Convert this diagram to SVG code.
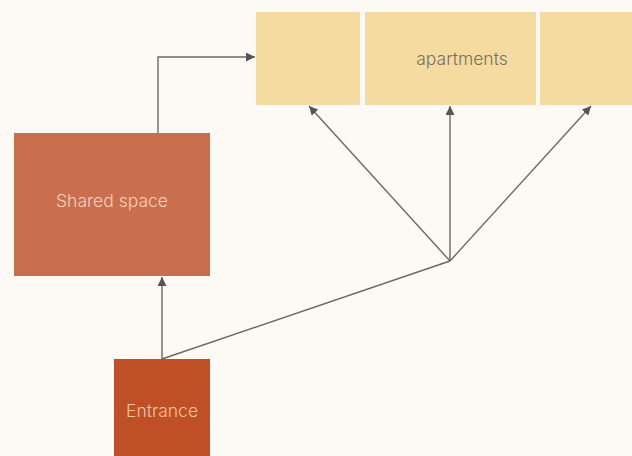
<svg xmlns="http://www.w3.org/2000/svg" width="632" height="456" viewBox="0 0 632 456">
<defs>
<style>
.lbl{font-family:Inter,"Noto Sans",sans-serif;font-size:17.5px;font-weight:300;text-anchor:middle;dominant-baseline:central}
.con{fill:none;stroke:#6b6865;stroke-width:1.4}
</style>
<marker id="ah" viewBox="0 0 10 10" refX="10" refY="5" markerWidth="9" markerHeight="9" markerUnits="userSpaceOnUse" orient="auto">
<path d="M0,0 L10,5 L0,10 z" fill="#555"/>
</marker>
</defs>
<rect width="632" height="456" fill="#fdfaf5"/>
<g id="apt1"><rect x="256" y="12" width="104" height="93" fill="#f5dba0"/></g>
<g id="apt2"><rect x="365" y="12" width="171" height="93" fill="#f5dba0"/><text class="lbl" x="462" y="58" fill="#7a7060">apartments</text></g>
<g id="apt3"><rect x="540" y="12" width="92" height="93" fill="#f5dba0"/></g>
<g id="shared"><rect x="14" y="133" width="196" height="143" fill="#c96f4e"/><text class="lbl" x="112" y="200" fill="#f5d0bc">Shared space</text></g>
<g id="entrance"><rect x="114" y="359" width="96" height="97" fill="#bf4f24"/><text class="lbl" x="162" y="410" fill="#f2c0a6">Entrance</text></g>
<g id="connectors">
<path class="con" d="M158,133 V57 H255" marker-end="url(#ah)"/>
<path class="con" d="M162,359 V277" marker-end="url(#ah)"/>
<path class="con" d="M162,359 L450,261"/>
<path class="con" d="M450,261 L309,106" marker-end="url(#ah)"/>
<path class="con" d="M450,261 V106" marker-end="url(#ah)"/>
<path class="con" d="M450,261 L591,106" marker-end="url(#ah)"/>
</g>
</svg>
